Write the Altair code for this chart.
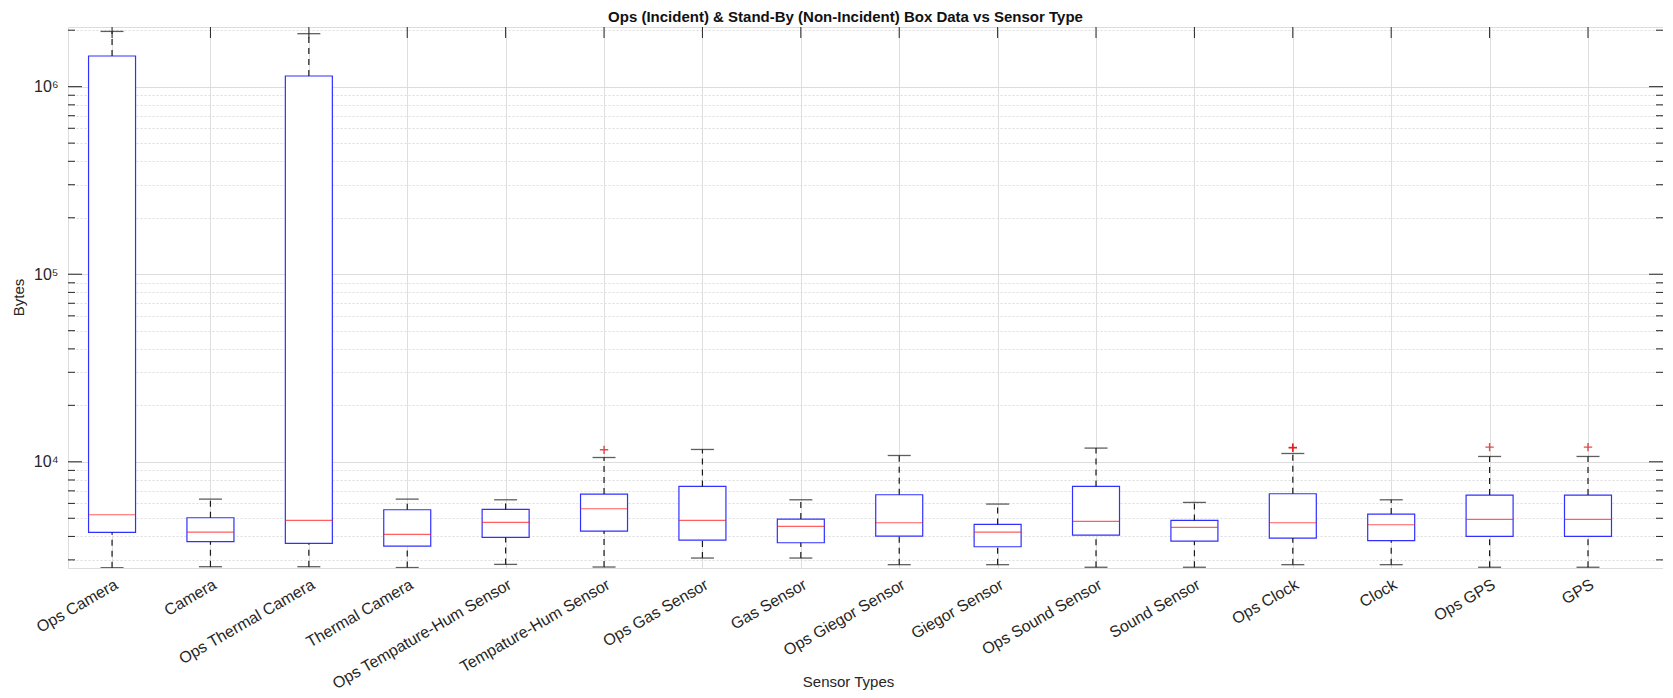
import altair as alt
import pandas as pd

categories = ["Ops Camera", "Camera", "Ops Thermal Camera", "Thermal Camera",
              "Ops Tempature-Hum Sensor", "Tempature-Hum Sensor", "Ops Gas Sensor",
              "Gas Sensor", "Ops Giegor Sensor", "Giegor Sensor", "Ops Sound Sensor",
              "Sound Sensor", "Ops Clock", "Clock", "Ops GPS", "GPS"]
lower_whisker = [2725, 2758, 2758, 2730, 2838, 2748, 3068, 3068, 2828, 2828, 2740, 2740, 2828, 2828, 2740, 2740]
q1 = [4202, 3749, 3670, 3554, 3952, 4274, 3825, 3702, 4018, 3524, 4069, 3776, 3921, 3795, 4001, 4001]
median = [5220, 4222, 4867, 4101, 4749, 5618, 4867, 4521, 4732, 4222, 4808, 4467, 4732, 4617, 4928, 4928]
q3 = [1457000, 5032, 1140000, 5550, 5572, 6730, 7387, 4949, 6672, 4634, 7387, 4867, 6753, 5264, 6644, 6644]
upper_whisker = [1970000, 6324, 1916000, 6324, 6272, 10540, 11634, 6272, 10804, 5952, 11832, 6072, 11073, 6272, 10676, 10676]

outlier_sensor = ["Tempature-Hum Sensor", "Ops Clock", "Ops Clock", "Ops GPS", "GPS"]
outlier_value = [11585, 11925, 11870, 11970, 11970]

major_ticks = [1e4, 1e5, 1e6]
minor_ticks = [3000, 4000, 5000, 6000, 7000, 8000, 9000,
               20000, 30000, 40000, 50000, 60000, 70000, 80000, 90000,
               200000, 300000, 400000, 500000, 600000, 700000, 800000, 900000, 2000000]

y_domain = [2715, 2080000]

df = pd.DataFrame({"sensor": categories, "lw": lower_whisker, "q1": q1,
                   "med": median, "q3": q3, "uw": upper_whisker})
df_out = pd.DataFrame({"sensor": outlier_sensor, "v": outlier_value})
df_major = pd.DataFrame({"v": major_ticks})
df_minor = pd.DataFrame({"v": minor_ticks})
df_cat = pd.DataFrame({"sensor": categories})

W, H = 1595, 541
FONT = "Liberation Sans"
TXT = "#262626"

xscale = alt.Scale(type="point", domain=categories, padding=0.605, align=0.37)
xaxis = alt.Axis(labelAngle=330, labelAlign="right", labelBaseline="top",
                 labelFontSize=16, labelFont=FONT, labelColor=TXT, labelPadding=8,
                 labelLimit=500,
                 ticks=False, domain=False, grid=True, gridColor="#dedede", gridWidth=1,
                 labelOverlap=False, title="Sensor Types", titleFont=FONT,
                 titleFontSize=15, titleFontWeight="normal", titleColor=TXT,
                 titleX=780, titleY=113, titleBaseline="middle", titleAnchor="start",
                 titleAlign="center")
yscale = alt.Scale(type="log", domain=y_domain, nice=False, zero=False)
yaxis = alt.Axis(values=major_ticks + minor_ticks,
                 labelExpr="datum.value == 10000 ? '10⁴' : datum.value == 100000 ? '10⁵' : datum.value == 1000000 ? '10⁶' : ''",
                 labelFontSize=16, labelFont=FONT, labelColor=TXT, labelPadding=10,
                 labelOverlap=False, labelFlush=False, ticks=False, tickSize=0, domain=False,
                 grid=True, gridColor="#dcdcdc", gridWidth=1,
                 gridDash={"condition": {"test": "datum.value == 10000 || datum.value == 100000 || datum.value == 1000000", "value": []}, "value": [2, 2]},
                 title="Bytes", titleFont=FONT, titleFontSize=15, titleFontWeight="normal",
                 titleColor=TXT, titleX=-50, titleY=270, titleAlign="center",
                 titleBaseline="middle", titleAngle=270)


def X():
    return alt.X("sensor:N", scale=xscale, axis=xaxis, sort=categories)


def Y(field):
    return alt.Y(f"{field}:Q", scale=yscale, axis=yaxis, title="Bytes")


def Y2(field):
    return alt.Y2(f"{field}:Q")


base = alt.Chart(df)

upper_w = base.mark_rule(color="#1a1a1a", strokeWidth=1.2, strokeDash=[6, 5], clip=True).encode(
    x=X(), y=Y("q3"), y2=Y2("uw"))
lower_w = base.mark_rule(color="#1a1a1a", strokeWidth=1.2, strokeDash=[6, 5], clip=True).encode(
    x=X(), y=Y("lw"), y2=Y2("q1"))
cap_u = base.mark_tick(color="#1a1a1a", size=23, thickness=1.3, clip=True).encode(x=X(), y=Y("uw"))
cap_l = base.mark_tick(color="#1a1a1a", size=23, thickness=1.3, clip=True).encode(x=X(), y=Y("lw"))
box = base.mark_bar(fill="white", stroke="#3030ff", strokeWidth=1.2, width=47, clip=True).encode(
    x=X(), y=Y("q1"), y2=Y2("q3"))
med = base.mark_tick(color="#ff1a1a", size=47, thickness=1.2, clip=True).encode(x=X(), y=Y("med"))
outl = alt.Chart(df_out).mark_point(shape="M-1,0L1,0M0,-1L0,1", size=70, filled=False,
                                    color="#e00000", strokeWidth=1.4, clip=True).encode(
    x=X(), y=Y("v"))

# inward axis ticks (MATLAB style)
lt_major = alt.Chart(df_major).mark_rule(color=TXT, strokeWidth=1).encode(
    y=Y("v"), x=alt.value(0), x2=alt.value(14))
lt_minor = alt.Chart(df_minor).mark_rule(color=TXT, strokeWidth=1).encode(
    y=Y("v"), x=alt.value(0), x2=alt.value(7))
rt_major = alt.Chart(df_major).mark_rule(color=TXT, strokeWidth=1).encode(
    y=Y("v"), x=alt.value(W - 14), x2=alt.value(W))
rt_minor = alt.Chart(df_minor).mark_rule(color=TXT, strokeWidth=1).encode(
    y=Y("v"), x=alt.value(W - 7), x2=alt.value(W))
top_ticks = alt.Chart(df_cat).mark_rule(color=TXT, strokeWidth=1).encode(
    x=X(), y=alt.value(0), y2=alt.value(11))

chart = alt.layer(
    box, upper_w, lower_w, cap_u, cap_l, med, outl,
    lt_major, lt_minor, rt_major, rt_minor, top_ticks
).properties(
    width=W, height=H,
    title=alt.Title("Ops (Incident) & Stand-By (Non-Incident) Box Data vs Sensor Type",
                    font=FONT, fontSize=15, fontWeight="bold", color="#111111",
                    anchor="middle", dx=-20, dy=7, offset=4, frame="group"),
    autosize=alt.AutoSizeParams(type="none"),
    padding={"left": 60, "top": 19, "right": 0, "bottom": 122},
).configure_view(
    stroke=TXT, strokeWidth=1
).configure(background="white")

chart.save("out.html", embed_options={"renderer": "svg", "actions": False})
